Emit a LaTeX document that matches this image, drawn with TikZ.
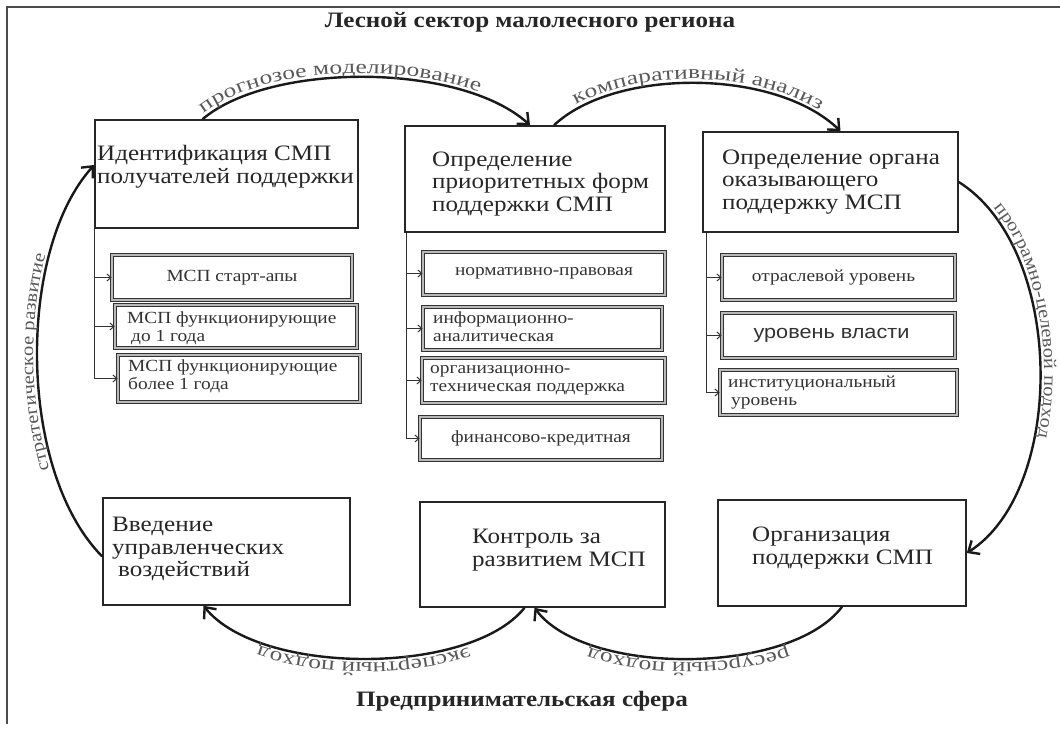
\documentclass[tikz,border=0pt]{standalone}
\usepackage{fontspec}
\setmainfont{Liberation Serif}[FakeStretch=1.14]
\newfontfamily\sansfam{Liberation Sans}[FakeStretch=1.14]
\newfontfamily\stretchfam{Liberation Serif}[FakeStretch=1.3]
\usetikzlibrary{arrows.meta,decorations.text,calc}
\newcommand\lblh{\stretchfam\fontsize{19.5}{19.5}\selectfont}
\newcommand\lblv{\fontsize{18}{18}\selectfont}
\begin{document}
\begin{tikzpicture}[x=1pt,y=-1pt,
  mainbox/.style={draw=black!85, line width=1.6pt, fill=white, inner sep=0pt},
  subbox/.style={draw=black!80, line width=0.7pt, double=gray!55, double distance=2.6pt, fill=white, inner sep=0pt, text=black!80, font=\fontsize{17}{18}\selectfont},
  btext/.style={anchor=west, align=left, inner sep=0pt, text=black!85, font=\fontsize{22}{22.5}\selectfont},
  stext/.style={anchor=west, align=left, inner sep=0pt, text=black!80, font=\fontsize{17}{18}\selectfont},
  arcline/.style={line width=2.4pt, black!90, -{Straight Barb[length=9pt,width=16pt]}},
  branch/.style={line width=1pt, black!80},
  tick/.style={line width=1pt, black!80, -{Straight Barb[length=4pt,width=7pt]}},
  ttl/.style={inner sep=0pt, anchor=base, text=black!85, font=\fontsize{22}{22}\selectfont\bfseries},
  lbl/.style 2 args={postaction={decorate, decoration={text along path, raise=4pt, text align={#1}, text color=black!65, text={#2}}}}
]
\useasboundingbox (0,0) rectangle (1060,731);
\fill[white] (0,0) rectangle (1060,731);
\draw[line width=1.2pt, black!70] (7,724) -- (7,7) -- (1060,7);

% titles
\node[ttl] (top) at (530,27) {Лесной сектор малолесного региона};
\node[ttl] (bot) at (522,706) {Предпринимательская сфера};

% main boxes
\node[mainbox, minimum width=263, minimum height=108] (b1) at (226.5,174) {};
\node[mainbox, minimum width=260, minimum height=106] (b2) at (535,179) {};
\node[mainbox, minimum width=255, minimum height=100] (b3) at (830.5,182) {};
\node[mainbox, minimum width=247, minimum height=107] (b4) at (226.5,551.5) {};
\node[mainbox, minimum width=245, minimum height=105] (b5) at (542.5,554.5) {};
\node[mainbox, minimum width=248, minimum height=106] (b6) at (842,553) {};

\node[btext] (b1t) at (97,166.5) {Идентификация СМП\\получателей поддержки};
\node[btext] (b2t) at (432,184) {Определение\\приоритетных форм\\поддержки СМП};
\node[btext] (b3t) at (722,182) {Определение органа\\оказывающего\\поддержку МСП};
\node[btext] (b4t) at (112,549) {Введение\\управленческих\\\hspace*{6pt}воздействий};
\node[btext] (b5t) at (472,550) {Контроль за\\развитием МСП};
\node[btext] (b6t) at (752,548) {Организация\\поддержки СМП};

% sub boxes left
\node[subbox, minimum width=240, minimum height=45] (s1) at (232,277.5) {МСП старт-апы};
\node[subbox, minimum width=242, minimum height=43] (s2) at (236,326.5) {};
\node[subbox, minimum width=242, minimum height=47] (s3) at (239,378.5) {};
\node[stext] (s2t) at (127,328) {МСП функционирующие\\\hspace*{4pt}до 1 года};
\node[stext] (s3t) at (128,376) {МСП функционирующие\\более 1 года};

% sub boxes middle
\node[subbox, minimum width=242, minimum height=43] (m1) at (544,273.5) {нормативно-правовая};
\node[subbox, minimum width=239, minimum height=43] (m2) at (542.5,328.5) {};
\node[subbox, minimum width=243, minimum height=45] (m3) at (543.5,380.5) {};
\node[subbox, minimum width=242, minimum height=43] (m4) at (541,438.5) {финансово-кредитная};
\node[stext] (m2t) at (433,326.5) {информационно-\\аналитическая};
\node[stext] (m3t) at (430,380) {организационно-\\техническая поддержка};

% sub boxes right
\node[subbox, minimum width=233, minimum height=45] (r1) at (838.5,277.5) {\hspace*{-10pt}отраслевой уровень};
\node[subbox, minimum width=233, minimum height=45, font=\sansfam\fontsize{19}{20}\selectfont] (r2) at (838.5,335.5) {\hspace*{-14pt}уровень власти};
\node[subbox, minimum width=237, minimum height=45] (r3) at (838.5,392.5) {};
\node[stext] (r3t) at (728,393) {институциональный\\\hspace*{3pt}уровень};

% branches
\draw[branch] (b1.south west) -- (b1.south west |- s3.west);
\draw[tick] (b1.south west |- s1.west) -- (s1.west);
\draw[tick] (b1.south west |- s2.west) -- (s2.west);
\draw[tick] (b1.south west |- s3.west) -- (s3.west);

\draw[branch] ([xshift=2pt]b2.south west) -- ([xshift=2pt]b2.south west |- m4.west);
\draw[tick] ([xshift=2pt]b2.south west |- m1.west) -- (m1.west);
\draw[tick] ([xshift=2pt]b2.south west |- m2.west) -- (m2.west);
\draw[tick] ([xshift=2pt]b2.south west |- m3.west) -- (m3.west);
\draw[tick] ([xshift=2pt]b2.south west |- m4.west) -- (m4.west);

\draw[branch] ([xshift=4pt]b3.south west) -- ([xshift=4pt]b3.south west |- r3.west);
\draw[tick] ([xshift=4pt]b3.south west |- r1.west) -- (r1.west);
\draw[tick] ([xshift=4pt]b3.south west |- r2.west) -- (r2.west);
\draw[tick] ([xshift=4pt]b3.south west |- r3.west) -- (r3.west);

% cycle arcs
\draw[arcline, lbl={left, left indent=4pt}{|\lblh|прогнозое моделирование}]
  ([xshift=-24pt]b1.north) .. controls (270,62) and (460,62) .. ([xshift=-5pt]b2.north);
\draw[arcline, lbl={center}{|\lblh|компаративный анализ}]
  ([xshift=19pt]b2.north) .. controls (615,68) and (775,68) .. ([xshift=10pt]b3.north);
\draw[arcline, lbl={left, left indent=42pt}{|\lblv|програмно-целевой подход}]
  (b3.east) .. controls (1066,250) and (1066,490) .. (b6.east);
\draw[arcline, lbl={center}{|\lblh|ресурсный подход}]
  (b6.south) .. controls (790,676) and (585,676) .. ([xshift=-8pt]b5.south);
\draw[arcline, lbl={center}{|\lblh|экспертный подход}]
  ([xshift=-18pt]b5.south) .. controls (470,676) and (260,676) .. ([xshift=-23pt]b4.south);
\draw[arcline, lbl={center}{|\lblv|стратегическое развитие}]
  ([yshift=-5pt]b4.west) .. controls (17,470) and (17,250) .. ([yshift=9pt]b1.west);
\end{tikzpicture}
\end{document}
